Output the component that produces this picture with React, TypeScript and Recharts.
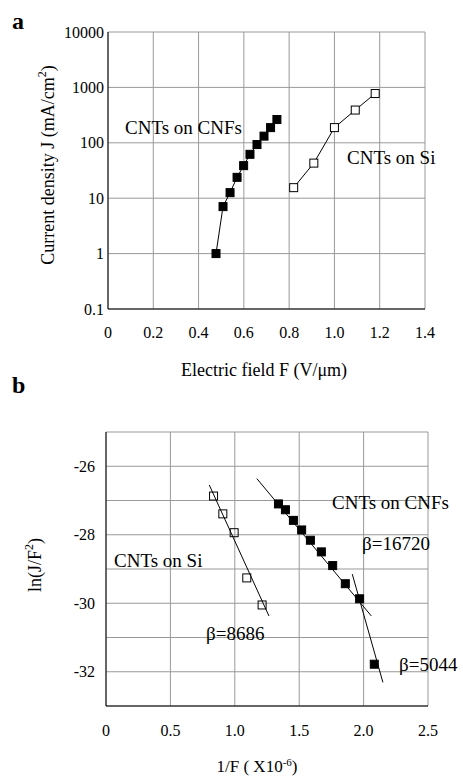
import React from "react";
import { LineChart, Line, XAxis, YAxis, CartesianGrid } from "recharts";

const FONT = "'Liberation Serif', 'Times New Roman', serif";

// panel a: J-F curves
const cnfF = [0.477, 0.508, 0.539, 0.57, 0.599, 0.627, 0.658, 0.689, 0.718, 0.746];
const cnfJ = [1, 7.05, 12.6, 23.8, 38.7, 62, 93, 132, 188, 263];
const siF = [0.82, 0.909, 1.0, 1.092, 1.18];
const siJ = [15.5, 43, 188, 390, 775];
const aXTicks = [0, 0.2, 0.4, 0.6, 0.8, 1.0, 1.2, 1.4];
const aYTicks = [0.1, 1, 10, 100, 1000, 10000];

// panel b: F-N plot
const cnfInvF = [1.339, 1.393, 1.455, 1.519, 1.587, 1.672, 1.76, 1.858, 1.969, 2.083];
const cnfLn = [-27.1, -27.27, -27.58, -27.86, -28.16, -28.5, -28.9, -29.43, -29.87, -31.78];
const siInvF = [0.835, 0.907, 0.995, 1.093, 1.212];
const siLn = [-26.87, -27.39, -27.94, -29.26, -30.05];
const fitSi = [[0.802, -26.55], [1.265, -30.37]];
const fitCnf1 = [[1.171, -26.36], [2.06, -30.37]];
const fitCnf2 = [[1.912, -29.15], [2.15, -32.31]];
const bXTicks = [0, 0.5, 1.0, 1.5, 2.0, 2.5];
const bYTicks = [-33, -32, -31, -30, -29, -28, -27, -26, -25];

const zip = (xs: number[], ys: number[]) => xs.map((x, i) => ({ x, y: ys[i] }));
const pairs = (p: number[][]) => p.map(([x, y]) => ({ x, y }));

const tickStyle = { fill: "#000", fontSize: 16, fontFamily: FONT };

const square = (fill: string) => (p: any) => (
  <rect
    key={p.index}
    x={p.cx - 4}
    y={p.cy - 4}
    width={8}
    height={8}
    fill={fill}
    stroke="#000"
    strokeWidth={1}
  />
);

export default function App() {
  return (
    <div style={{ position: "absolute", left: 0, top: 0, width: 463, height: 778, background: "#fff" }}>
      <div style={{ position: "absolute", left: 0, top: 0 }}>
        <LineChart width={463} height={390} margin={{ top: 32, right: 38, bottom: 41, left: 0 }}>
          <CartesianGrid stroke="#999" />
          <XAxis
            type="number"
            dataKey="x"
            domain={[0, 1.4]}
            ticks={aXTicks}
            tickFormatter={(v: number) => (v === 0 ? "0" : v.toFixed(1))}
            tickLine={false}
            tickSize={0}
            tickMargin={18}
            height={40}
            axisLine={{ stroke: "#000" }}
            tick={tickStyle}
          />
          <YAxis
            type="number"
            dataKey="y"
            scale="log"
            domain={[0.1, 10000]}
            ticks={aYTicks}
            allowDataOverflow
            tickLine={false}
            tickSize={0}
            tickMargin={4}
            width={108}
            axisLine={{ stroke: "#000" }}
            tick={tickStyle}
          />
          <Line
            data={zip(cnfF, cnfJ)}
            dataKey="y"
            stroke="#000"
            strokeWidth={1}
            dot={square("#000")}
            isAnimationActive={false}
          />
          <Line
            data={zip(siF, siJ)}
            dataKey="y"
            stroke="#000"
            strokeWidth={1}
            dot={square("#fff")}
            isAnimationActive={false}
          />
        </LineChart>
      </div>
      <div style={{ position: "absolute", left: 0, top: 390 }}>
        <LineChart width={463} height={388} margin={{ top: 42, right: 35, bottom: 32, left: 0 }}>
          <CartesianGrid stroke="#999" />
          <XAxis
            type="number"
            dataKey="x"
            domain={[0, 2.5]}
            ticks={bXTicks}
            tickFormatter={(v: number) => (v === 0 ? "0" : v.toFixed(1))}
            tickLine={false}
            tickSize={0}
            tickMargin={19}
            height={40}
            axisLine={{ stroke: "#000" }}
            tick={tickStyle}
          />
          <YAxis
            type="number"
            dataKey="y"
            domain={[-33, -25]}
            ticks={bYTicks}
            tickFormatter={(v: number) => (v % 2 === 0 ? String(v) : "")}
            tickLine={false}
            tickSize={0}
            tickMargin={11}
            width={106}
            axisLine={{ stroke: "#000" }}
            tick={tickStyle}
          />
          <Line data={pairs(fitSi)} dataKey="y" stroke="#000" strokeWidth={1} dot={false} isAnimationActive={false} />
          <Line data={pairs(fitCnf1)} dataKey="y" stroke="#000" strokeWidth={1} dot={false} isAnimationActive={false} />
          <Line data={pairs(fitCnf2)} dataKey="y" stroke="#000" strokeWidth={1} dot={false} isAnimationActive={false} />
          <Line
            data={zip(siInvF, siLn)}
            dataKey="y"
            stroke="none"
            dot={square("none")}
            isAnimationActive={false}
          />
          <Line
            data={zip(cnfInvF, cnfLn)}
            dataKey="y"
            stroke="none"
            dot={square("#000")}
            isAnimationActive={false}
          />
        </LineChart>
      </div>
      <svg
        width={463}
        height={778}
        style={{ position: "absolute", left: 0, top: 0, pointerEvents: "none" }}
        fontFamily={FONT}
        fill="#000"
      >
        <text x={12} y={29} fontSize={24} fontWeight="bold">a</text>
        <text x={12} y={393} fontSize={24} fontWeight="bold">b</text>

        <text x={125} y={127} fontSize={19} dominantBaseline="central">CNTs on CNFs</text>
        <text x={347} y={157} fontSize={19} dominantBaseline="central">CNTs on Si</text>

        <text
          x={48}
          y={165}
          fontSize={18}
          textAnchor="middle"
          dominantBaseline="central"
          transform="rotate(-90 48 165)"
        >
          Current density J (mA/cm<tspan dy={-6} fontSize={12}>2</tspan><tspan dy={6}>)</tspan>
        </text>
        <text x={264} y={370} fontSize={18} textAnchor="middle" dominantBaseline="central">
          Electric field F (V/μm)
        </text>

        <text x={332} y={502} fontSize={19} dominantBaseline="central">CNTs on CNFs</text>
        <text x={362} y={543} fontSize={19} dominantBaseline="central">β=16720</text>
        <text x={114} y={560} fontSize={19} dominantBaseline="central">CNTs on Si</text>
        <text x={206} y={633} fontSize={19} dominantBaseline="central">β=8686</text>
        <text x={399} y={664} fontSize={19} dominantBaseline="central">β=5044</text>

        <text
          x={35}
          y={565}
          fontSize={18}
          textAnchor="middle"
          dominantBaseline="central"
          transform="rotate(-90 35 565)"
        >
          ln(J/F<tspan dy={-6} fontSize={12}>2</tspan><tspan dy={6}>)</tspan>
        </text>
        <text x={257} y={772} fontSize={17} textAnchor="middle">
          1/F ( X10<tspan dy={-6} fontSize={11}>-6</tspan><tspan dy={6}>)</tspan>
        </text>
      </svg>
    </div>
  );
}
